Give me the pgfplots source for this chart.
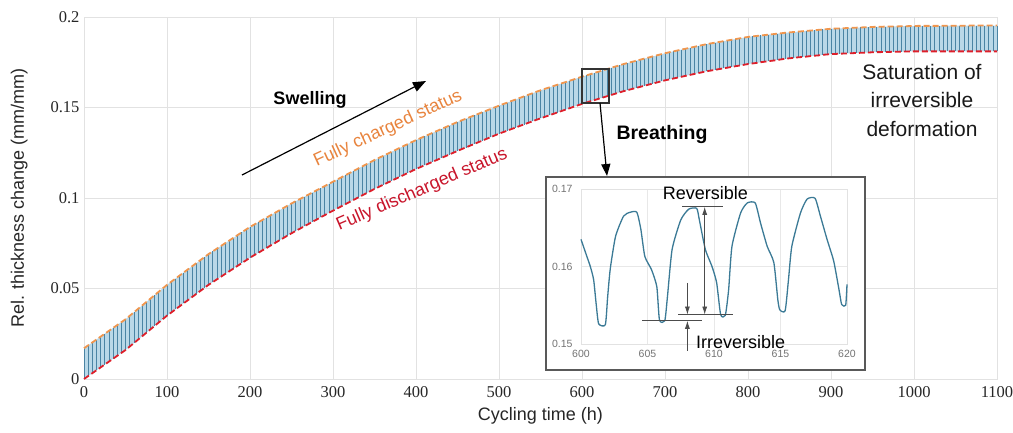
\documentclass[border=0pt]{standalone}
\usepackage{fontspec}
\setmainfont{Liberation Sans}
\newfontfamily\tickfont{Liberation Serif}
\usepackage{pgfplots}
\usepackage{pgfplotstable}
\pgfplotsset{compat=1.18}
\usepgfplotslibrary{fillbetween}
\usetikzlibrary{arrows.meta}

\definecolor{gridgray}{HTML}{E2E2E2}
\definecolor{bandfill}{HTML}{B9D8E8}
\definecolor{strk}{HTML}{4A84A4}
\definecolor{upcol}{HTML}{F0964E}
\definecolor{locol}{HTML}{DE1F2A}
\definecolor{orangetxt}{HTML}{E8843E}
\definecolor{redtxt}{HTML}{C8152B}
\definecolor{insetline}{HTML}{3B7A96}

% t = cycling time (h), lo = fully discharged, hi = fully charged
\pgfplotstableread{
t lo hi
0 0.0000 0.0170
5 0.0016 0.0186
10 0.0032 0.0202
15 0.0048 0.0218
20 0.0064 0.0234
25 0.0080 0.0250
30 0.0096 0.0266
35 0.0112 0.0282
40 0.0128 0.0298
45 0.0144 0.0314
50 0.0160 0.0330
55 0.0179 0.0349
60 0.0198 0.0368
65 0.0217 0.0387
70 0.0236 0.0406
75 0.0255 0.0425
80 0.0274 0.0444
85 0.0293 0.0463
90 0.0312 0.0482
95 0.0331 0.0501
100 0.0350 0.0520
105 0.0367 0.0537
110 0.0384 0.0554
115 0.0401 0.0571
120 0.0418 0.0588
125 0.0435 0.0605
130 0.0452 0.0622
135 0.0469 0.0639
140 0.0486 0.0656
145 0.0503 0.0673
150 0.0520 0.0690
155 0.0535 0.0705
160 0.0550 0.0720
165 0.0565 0.0735
170 0.0580 0.0750
175 0.0595 0.0765
180 0.0610 0.0780
185 0.0625 0.0795
190 0.0640 0.0810
195 0.0655 0.0825
200 0.0670 0.0840
205 0.0684 0.0853
210 0.0697 0.0866
215 0.0711 0.0879
220 0.0724 0.0892
225 0.0738 0.0905
230 0.0751 0.0918
235 0.0765 0.0931
240 0.0778 0.0944
245 0.0792 0.0957
250 0.0805 0.0970
255 0.0818 0.0982
260 0.0830 0.0994
265 0.0843 0.1006
270 0.0855 0.1018
275 0.0868 0.1030
280 0.0880 0.1042
285 0.0893 0.1054
290 0.0905 0.1066
295 0.0918 0.1078
300 0.0930 0.1090
305 0.0942 0.1102
310 0.0954 0.1114
315 0.0966 0.1126
320 0.0978 0.1138
325 0.0990 0.1150
330 0.1002 0.1162
335 0.1014 0.1174
340 0.1026 0.1186
345 0.1038 0.1198
350 0.1050 0.1210
355 0.1061 0.1221
360 0.1072 0.1232
365 0.1083 0.1243
370 0.1094 0.1254
375 0.1105 0.1265
380 0.1116 0.1276
385 0.1127 0.1287
390 0.1138 0.1298
395 0.1149 0.1309
400 0.1160 0.1320
405 0.1170 0.1330
410 0.1180 0.1340
415 0.1190 0.1350
420 0.1200 0.1360
425 0.1210 0.1370
430 0.1220 0.1380
435 0.1230 0.1390
440 0.1240 0.1400
445 0.1250 0.1410
450 0.1260 0.1420
455 0.1270 0.1429
460 0.1279 0.1438
465 0.1289 0.1447
470 0.1298 0.1456
475 0.1308 0.1465
480 0.1317 0.1474
485 0.1327 0.1483
490 0.1336 0.1492
495 0.1346 0.1501
500 0.1355 0.1510
505 0.1364 0.1519
510 0.1372 0.1527
515 0.1381 0.1536
520 0.1389 0.1544
525 0.1398 0.1553
530 0.1406 0.1561
535 0.1415 0.1570
540 0.1423 0.1578
545 0.1432 0.1587
550 0.1440 0.1595
555 0.1448 0.1603
560 0.1456 0.1610
565 0.1464 0.1618
570 0.1472 0.1625
575 0.1480 0.1633
580 0.1488 0.1640
585 0.1496 0.1648
590 0.1504 0.1655
595 0.1512 0.1663
600 0.1520 0.1670
605 0.1527 0.1677
610 0.1534 0.1684
615 0.1541 0.1691
620 0.1548 0.1698
625 0.1555 0.1705
630 0.1562 0.1712
635 0.1569 0.1719
640 0.1576 0.1726
645 0.1583 0.1733
650 0.1590 0.1740
655 0.1596 0.1746
660 0.1602 0.1752
665 0.1608 0.1758
670 0.1614 0.1764
675 0.1620 0.1770
680 0.1626 0.1776
685 0.1632 0.1782
690 0.1638 0.1788
695 0.1644 0.1794
700 0.1650 0.1800
705 0.1655 0.1805
710 0.1660 0.1810
715 0.1665 0.1815
720 0.1670 0.1820
725 0.1675 0.1825
730 0.1680 0.1830
735 0.1685 0.1835
740 0.1690 0.1840
745 0.1695 0.1845
750 0.1700 0.1850
755 0.1704 0.1854
760 0.1708 0.1858
765 0.1712 0.1862
770 0.1716 0.1866
775 0.1720 0.1870
780 0.1724 0.1874
785 0.1728 0.1878
790 0.1732 0.1882
795 0.1736 0.1886
800 0.1740 0.1890
805 0.1743 0.1893
810 0.1746 0.1895
815 0.1750 0.1898
820 0.1753 0.1900
825 0.1756 0.1903
830 0.1759 0.1905
835 0.1762 0.1908
840 0.1766 0.1910
845 0.1769 0.1913
850 0.1772 0.1915
855 0.1774 0.1917
860 0.1777 0.1919
865 0.1779 0.1921
870 0.1781 0.1923
875 0.1784 0.1925
880 0.1786 0.1927
885 0.1788 0.1929
890 0.1791 0.1931
895 0.1793 0.1933
900 0.1795 0.1935
905 0.1796 0.1936
910 0.1797 0.1937
915 0.1798 0.1938
920 0.1799 0.1939
925 0.1800 0.1940
930 0.1801 0.1941
935 0.1802 0.1942
940 0.1803 0.1943
945 0.1804 0.1944
950 0.1805 0.1945
955 0.1806 0.1946
960 0.1806 0.1946
965 0.1807 0.1947
970 0.1807 0.1947
975 0.1808 0.1948
980 0.1808 0.1948
985 0.1809 0.1949
990 0.1809 0.1949
995 0.1810 0.1950
1000 0.1810 0.1950
1005 0.1810 0.1951
1010 0.1810 0.1951
1015 0.1810 0.1951
1020 0.1810 0.1951
1025 0.1810 0.1951
1030 0.1810 0.1951
1035 0.1810 0.1952
1040 0.1810 0.1952
1045 0.1810 0.1952
1050 0.1810 0.1952
1055 0.1810 0.1952
1060 0.1810 0.1952
1065 0.1810 0.1952
1070 0.1810 0.1953
1075 0.1810 0.1953
1080 0.1810 0.1953
1085 0.1810 0.1953
1090 0.1810 0.1953
1095 0.1810 0.1953
1100 0.1810 0.1953
}\band

\begin{document}
\begin{tikzpicture}[x=1pt,y=1pt]
\begin{axis}[
  at={(84pt,53pt)}, anchor=south west,
  scale only axis, width=913pt, height=362pt,
  xmin=0, xmax=1100, ymin=0, ymax=0.2,
  xtick={0,100,...,1100},
  xticklabels={0,100,200,300,400,500,600,700,800,900,1000,1100},
  ytick={0,0.05,0.1,0.15,0.2},
  yticklabels={0,0.05,0.1,0.15,0.2},
  grid=major,
  major grid style={draw=gridgray, line width=0.9pt},
  axis line style={draw=gridgray, line width=0.9pt},
  tick style={draw=none},
  ticklabel style={font=\tickfont\fontsize{16.5}{16.5}\selectfont, text=black!85},
  xticklabel style={yshift=-4pt},
  yticklabel style={xshift=-1pt},
  xlabel={Cycling time (h)},
  ylabel={Rel. thickness change (mm/mm)},
  every axis x label/.style={at={(axis description cs:0.5,-0.102)}, anchor=center,
    font=\fontsize{18}{18}\selectfont, text=black!85},
  every axis y label/.style={at={(axis description cs:-0.071,0.5)}, rotate=90, anchor=center,
    font=\fontsize{18}{18}\selectfont, text=black!85},
  clip=false,
]
  \addplot[draw=none, name path=up, forget plot] table[x=t, y=hi] {\band};
  \addplot[draw=none, name path=dn, forget plot] table[x=t, y=lo] {\band};
  \addplot[bandfill, forget plot] fill between[of=up and dn];
  \addplot[draw=none, mark=none, forget plot,
    error bars/.cd, y dir=minus, y explicit, error mark=none,
    error bar style={draw=strk, solid, line width=0.55pt}]
    table[x=t, y=hi, y error minus expr=\thisrow{hi}-\thisrow{lo}] {\band};
  \addplot[upcol, line width=1.8pt, dash pattern=on 6pt off 3pt, smooth] table[x=t, y=hi] {\band};
  \addplot[locol, line width=1.8pt, dash pattern=on 6pt off 3pt, smooth] table[x=t, y=lo] {\band};
\end{axis}

% annotations on the main chart
\node[font=\bfseries\fontsize{18}{18}\selectfont] at (310pt,332pt) {Swelling};
\draw[line width=1.2pt, -{Triangle[length=13pt,width=10pt]}] (242pt,257pt) -- (426pt,351pt);
\node[text=orangetxt, rotate=24.7, font=\fontsize{18}{18}\selectfont] at (388pt,303pt) {Fully charged status};
\node[text=redtxt, rotate=23.4, font=\fontsize{18}{18}\selectfont] at (422pt,242pt) {Fully discharged status};
\node[font=\bfseries\fontsize{19.5}{19.5}\selectfont] at (662pt,297pt) {Breathing};
\draw[draw=black!80, line width=1.3pt] (582pt,329pt) rectangle (609pt,363pt);
\draw[line width=1.2pt, -{Triangle[length=12pt,width=9pt]}] (600pt,329pt) -- (607pt,256pt);
\node[align=center, text=black!90, font=\fontsize{21}{28.5}\selectfont] at (922pt,332pt) {Saturation of\\irreversible\\deformation};

% inset frame
\draw[draw=black!65, line width=1.3pt, fill=white] (546pt,62pt) rectangle (865pt,255pt);

\begin{axis}[
  at={(581pt,88pt)}, anchor=south west,
  scale only axis, width=266pt, height=155pt,
  xmin=600, xmax=620, ymin=0.15, ymax=0.17,
  xtick={600,605,610,615,620},
  xticklabels={600,605,610,615,620},
  ytick={0.15,0.16,0.17},
  yticklabels={0.15,0.16,0.17},
  grid=major,
  major grid style={draw=gridgray!80, line width=0.6pt},
  axis line style={draw=gridgray, line width=0.6pt},
  tick style={draw=none},
  ticklabel style={font=\fontsize{10.5}{10.5}\selectfont, text=black!55},
  xticklabel style={yshift=-3pt},
  yticklabel style={xshift=-5pt},
  clip=false,
]
  \addplot[insetline, line width=1.3pt, line join=round, smooth, tension=0.35] coordinates {
    (600.0,0.1635) (600.4,0.1615) (600.7,0.1600) (600.95,0.1583) (601.15,0.1550)
    (601.33,0.1526) (601.83,0.1525) (602.0,0.1560) (602.2,0.1597) (602.6,0.1639)
    (603.2,0.1665) (603.7,0.1670) (604.2,0.1670) (604.5,0.1648) (604.8,0.1613)
    (605.3,0.1596) (605.7,0.1574) (605.9,0.1531) (606.3,0.1530) (606.5,0.1561)
    (606.85,0.1622) (607.5,0.1660) (608.1,0.1674) (608.7,0.1675) (608.9,0.1660)
    (609.35,0.1622) (609.85,0.1600) (610.2,0.1579) (610.5,0.1538) (610.85,0.1537)
    (611.1,0.1570) (611.35,0.1626) (612.0,0.1669) (612.5,0.1682) (613.1,0.1682)
    (613.5,0.1656) (614.0,0.1626) (614.5,0.1605) (614.8,0.1557) (614.95,0.1544)
    (615.35,0.1543) (615.6,0.1583) (615.85,0.1626) (616.5,0.1669) (617.0,0.1687)
    (617.6,0.1688) (618.0,0.1665) (618.5,0.1635) (619.0,0.1607) (619.4,0.1570)
    (619.6,0.1551) (619.9,0.1550) (620.0,0.1577)
  };
  \draw[black!70, line width=0.8pt] (axis cs:607.6,0.1677) -- (axis cs:610.7,0.1677);
  \draw[black!70, line width=0.8pt] (axis cs:604.6,0.1530) -- (axis cs:609.1,0.1530);
  \draw[black!70, line width=0.8pt] (axis cs:607.3,0.1538) -- (axis cs:611.4,0.1538);
  \draw[black!70, line width=0.8pt, {Latex[length=8pt,width=5pt]}-{Latex[length=8pt,width=5pt]}]
    (axis cs:609.3,0.1677) -- (axis cs:609.3,0.1538);
  \draw[black!70, line width=0.8pt, -{Latex[length=8pt,width=5pt]}] (axis cs:608,0.1579) -- (axis cs:608,0.1538);
  \draw[black!70, line width=0.8pt, -{Latex[length=8pt,width=5pt]}] (axis cs:608,0.1491) -- (axis cs:608,0.1530);
  \node[font=\fontsize{18}{18}\selectfont] at (axis cs:609.35,0.1695) {Reversible};
  \node[font=\fontsize{18}{18}\selectfont] at (axis cs:612.0,0.1502) {Irreversible};
\end{axis}

\pgfresetboundingbox
\path[use as bounding box] (0pt,0pt) rectangle (1013pt,432pt);
\end{tikzpicture}
\end{document}
